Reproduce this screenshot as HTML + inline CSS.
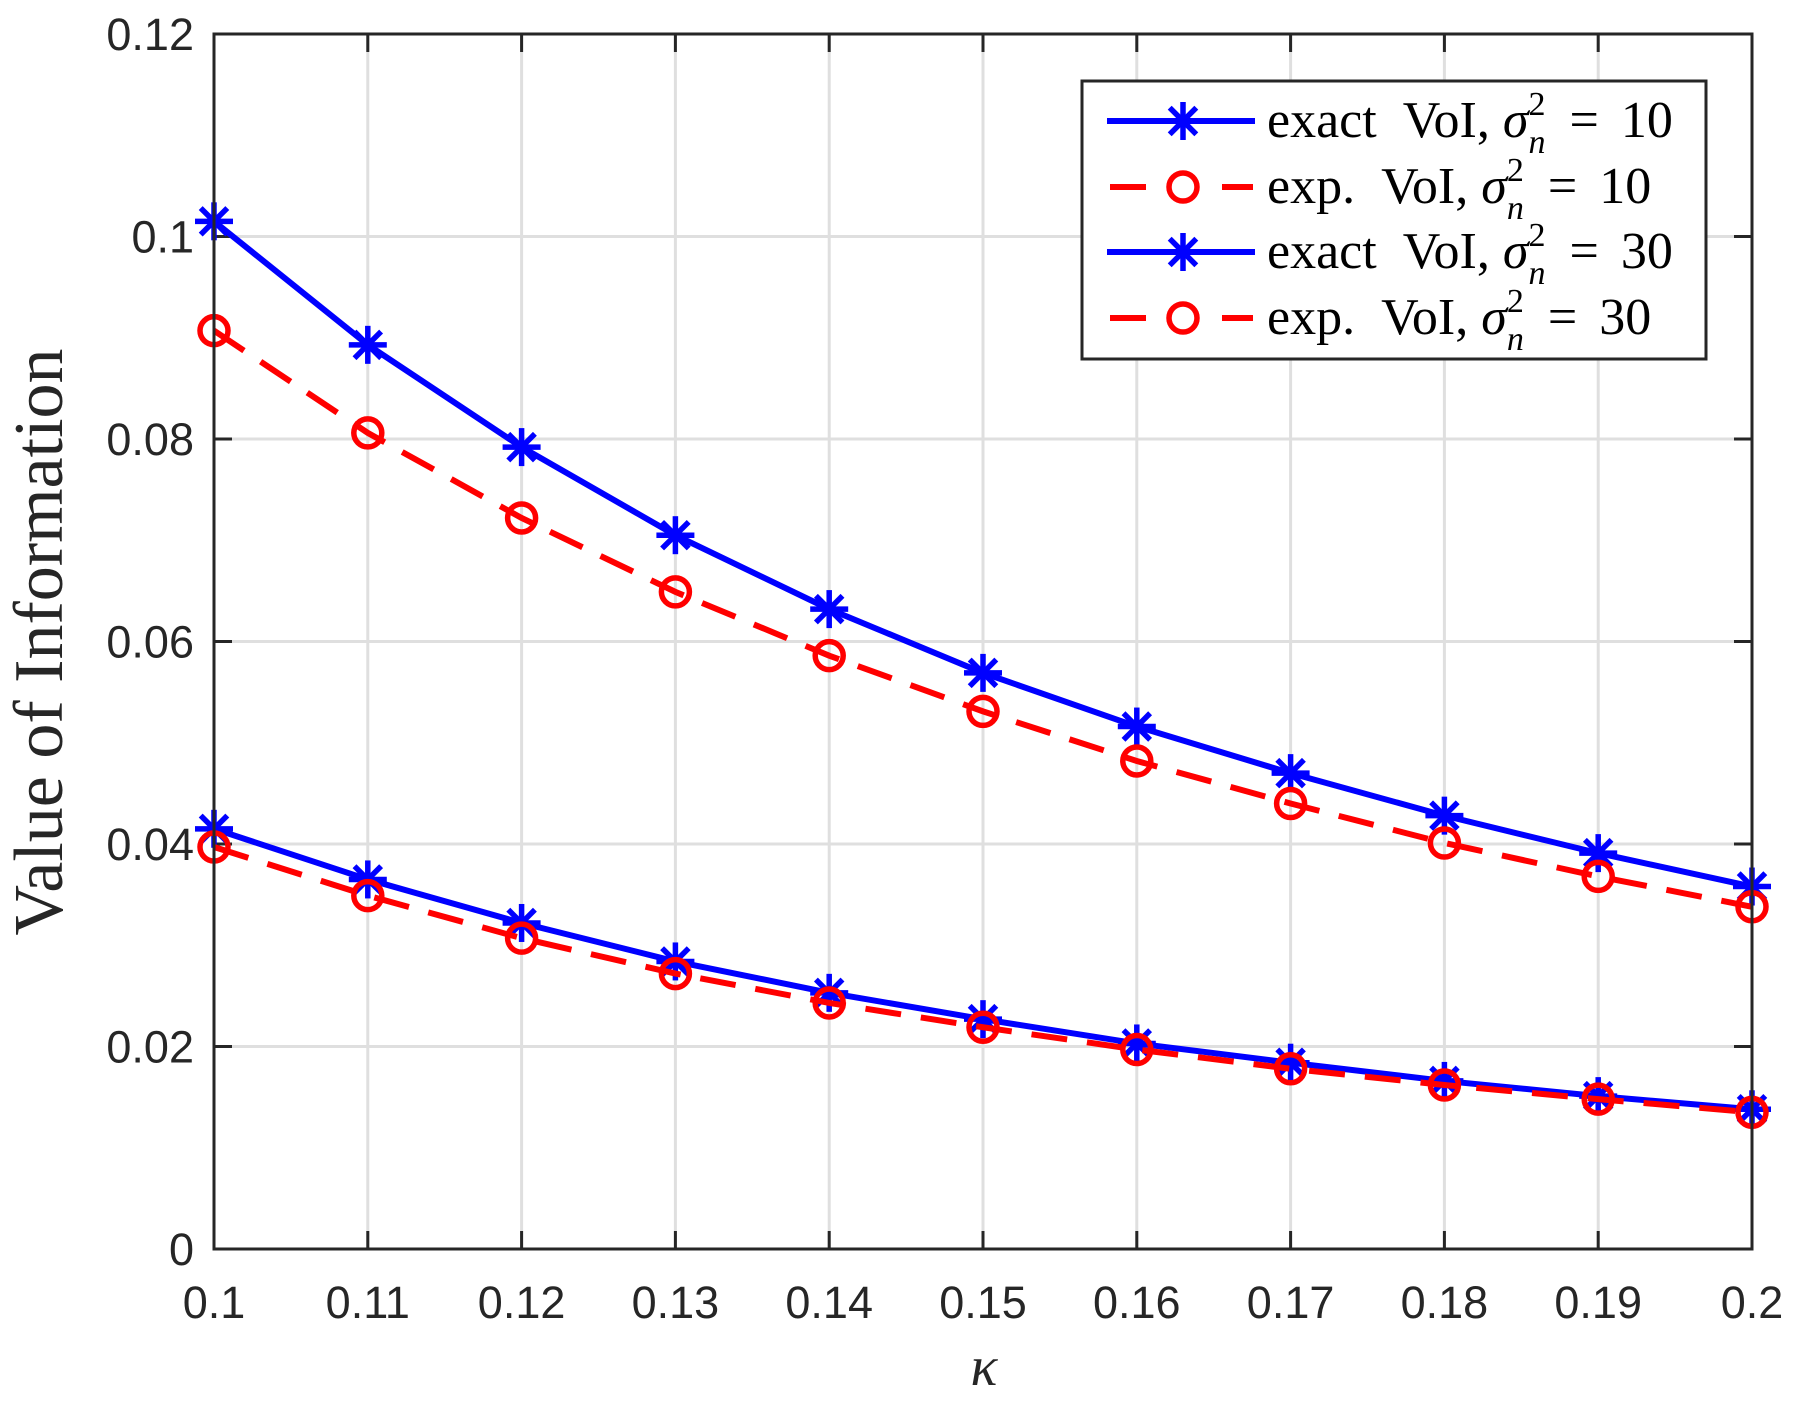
<!DOCTYPE html>
<html><head><meta charset="utf-8"><style>html,body{margin:0;padding:0;background:#fff}svg{display:block}</style></head>
<body>
<svg id="s" width="1798" height="1413" xmlns="http://www.w3.org/2000/svg"></svg>
<script>
const L=214,R=1752,T=34,B=1249;
const X=v=>L+(v-0.1)/0.1*(R-L), Y=v=>B-v/0.12*(B-T);
let h='<rect width="1798" height="1413" fill="#fff"/>';
for(let i=0;i<=10;i++){const x=X(0.1+i*0.01);h+=`<line x1="${x}" y1="${T}" x2="${x}" y2="${B}" stroke="#dfdfdf" stroke-width="3"/>`;}
for(let i=0;i<=6;i++){const y=Y(i*0.02);h+=`<line x1="${L}" y1="${y}" x2="${R}" y2="${y}" stroke="#dfdfdf" stroke-width="3"/>`;}
for(let i=0;i<=10;i++){const x=X(0.1+i*0.01);h+=`<line x1="${x}" y1="${B}" x2="${x}" y2="${B-18}" stroke="#262626" stroke-width="3"/><line x1="${x}" y1="${T}" x2="${x}" y2="${T+18}" stroke="#262626" stroke-width="3"/>`;
 h+=`<text x="${x}" y="${1318}" font-family="Liberation Sans" font-size="45" fill="#262626" text-anchor="middle">${['0.1','0.11','0.12','0.13','0.14','0.15','0.16','0.17','0.18','0.19','0.2'][i]}</text>`;}
for(let i=0;i<=6;i++){const y=Y(i*0.02);h+=`<line x1="${L}" y1="${y}" x2="${L+18}" y2="${y}" stroke="#262626" stroke-width="3"/><line x1="${R}" y1="${y}" x2="${R-18}" y2="${y}" stroke="#262626" stroke-width="3"/>`;
 h+=`<text x="194" y="${y+16}" font-family="Liberation Sans" font-size="45" fill="#262626" text-anchor="end">${['0','0.02','0.04','0.06','0.08','0.1','0.12'][i]}</text>`;}
const e10=[0.1015,0.0893,0.0792,0.0705,0.0632,0.0569,0.0516,0.0470,0.0428,0.0391,0.0358];
const x10=[0.0907,0.0806,0.0722,0.0649,0.0586,0.0531,0.0482,0.0440,0.0401,0.0368,0.0338];
const e30=[0.0415,0.0365,0.0322,0.0284,0.0253,0.0227,0.0203,0.0184,0.0166,0.0151,0.0138];
const x30=[0.0397,0.0349,0.0307,0.0272,0.0243,0.0219,0.0197,0.0178,0.0162,0.0148,0.0135];
function star(x,y,c){const r=19,d=r*0.7;return `<g stroke="${c}" stroke-width="5.5"><line x1="${x-r}" y1="${y}" x2="${x+r}" y2="${y}"/><line x1="${x}" y1="${y-r}" x2="${x}" y2="${y+r}"/><line x1="${x-d}" y1="${y-d}" x2="${x+d}" y2="${y+d}"/><line x1="${x-d}" y1="${y+d}" x2="${x+d}" y2="${y-d}"/></g>`;}
function circ(x,y){return `<circle cx="${x}" cy="${y}" r="14" fill="none" stroke="#ff0000" stroke-width="5.5"/>`;}
function series(d,c,dash,mk){const p=d.map((v,i)=>`${X(0.1+i*0.01)},${Y(v)}`).join(' ');let s=`<polyline points="${p}" fill="none" stroke="${c}" stroke-width="6" ${dash?'stroke-dasharray="36 20"':''}/>`;d.forEach((v,i)=>{s+=mk(X(0.1+i*0.01),Y(v),c)});return s;}
h+=series(e10,'#0000ff',0,star)+series(x10,'#ff0000',1,circ)+series(e30,'#0000ff',0,star)+series(x30,'#ff0000',1,circ);
h+=`<rect x="${L}" y="${T}" width="${R-L}" height="${B-T}" fill="none" stroke="#262626" stroke-width="3"/>`;
h+=`<rect x="1082" y="81" width="624" height="278" fill="#fff" stroke="#262626" stroke-width="3"/>`;
const rows=[[121,0,'exact\u2002VoI, ','10'],[187,1,'exp.\u2002VoI, ','10'],[252,0,'exact\u2002VoI, ','30'],[318,1,'exp.\u2002VoI, ','30']];
rows.forEach(([y,t,a,n])=>{
 if(t==0){h+=`<line x1="1107" y1="${y}" x2="1255" y2="${y}" stroke="#0000ff" stroke-width="6"/>`+star(1183,y,'#0000ff');}
 else{h+=`<line x1="1110" y1="${y}" x2="1146" y2="${y}" stroke="#ff0000" stroke-width="6"/><line x1="1222" y1="${y}" x2="1253" y2="${y}" stroke="#ff0000" stroke-width="6"/>`+circ(1183,y);}
 h+=`<text font-family="Liberation Serif" font-size="52" fill="#000" y="${y+16}"><tspan x="1267">${a}</tspan><tspan font-style="italic">σ</tspan><tspan font-size="34" dy="-22">2</tspan><tspan font-size="34" font-style="italic" dx="-17" dy="38">n</tspan><tspan dy="-16" dx="24">=</tspan><tspan dx="22">${n}</tspan></text>`;
});
h+=`<text transform="translate(62,642) rotate(-90)" font-family="Liberation Serif" font-size="70" text-anchor="middle" fill="#262626">Value of Information</text>`;
h+=`<text x="984" y="1385" font-family="Liberation Serif" font-style="italic" font-size="56" text-anchor="middle" fill="#262626">κ</text>`;
document.getElementById('s').innerHTML=h;
</script>
</body></html>
